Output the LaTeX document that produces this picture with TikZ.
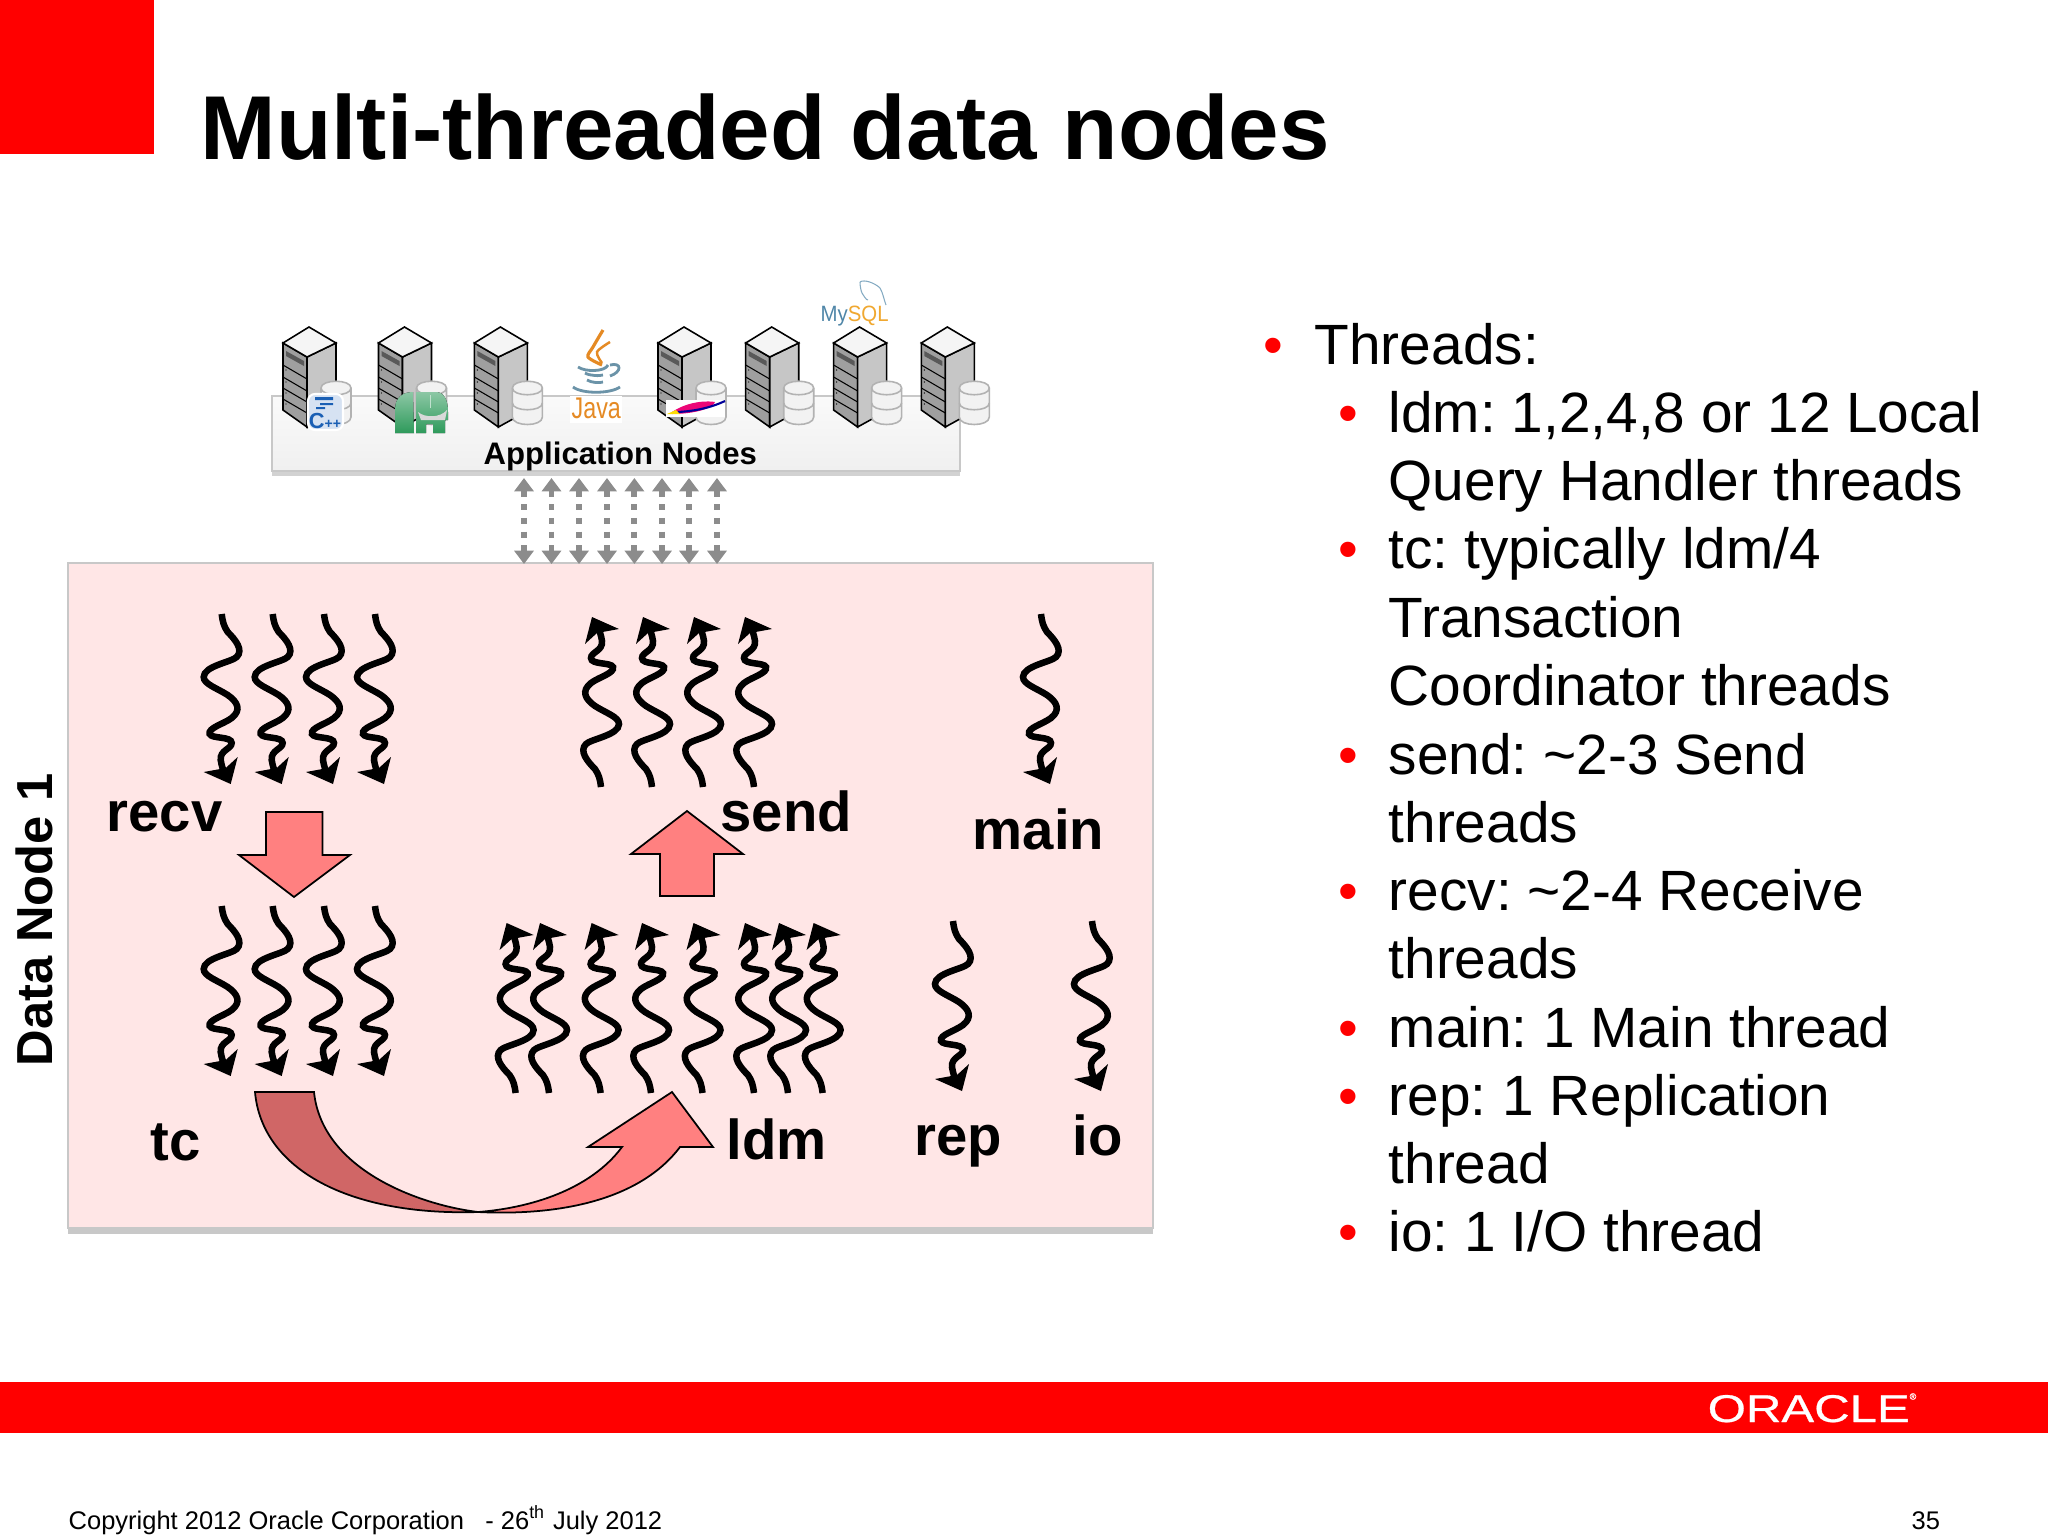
\documentclass[tikz,border=0pt]{standalone}
\usepackage{fontspec}
\usepackage{graphicx}
\setmainfont{Liberation Sans}
\newfontfamily\logofont[FakeBold=0.6]{Liberation Sans}
\usetikzlibrary{arrows.meta}
\definecolor{oraclered}{HTML}{FF0000}
\definecolor{panelpink}{HTML}{FFE6E6}
\definecolor{panelgrey}{HTML}{C8C8C8}
\definecolor{arrowpink}{HTML}{FF8080}
\definecolor{arrowdark}{HTML}{D06666}
\definecolor{linkgrey}{HTML}{8C8C8C}
\definecolor{javaorange}{HTML}{E58A24}
\definecolor{javablue}{HTML}{6B93A8}
\definecolor{mysqlblue}{HTML}{4F86A8}
\definecolor{mysqlorange}{HTML}{F0A830}
\definecolor{cppblue}{HTML}{1A5FB4}
\definecolor{hadoopgreen}{HTML}{2E9A5B}
\tikzset{
  titletext/.style={anchor=base west, inner sep=0pt, font=\fontsize{25.8}{30}\selectfont\bfseries},
  bodytext/.style={anchor=base west, inner sep=0pt, font=\fontsize{16.15}{19}\selectfont},
  bullettext/.style={anchor=base west, inner sep=0pt, text=oraclered, font=\fontsize{16}{19}\selectfont},
  threadlabel/.style={anchor=base west, inner sep=0pt, font=\fontsize{16}{19}\selectfont\bfseries},
  smalltext/.style={anchor=base west, inner sep=0pt, font=\fontsize{7.25}{9}\selectfont},
  blockarrow/.style={draw=black, line width=0.5pt, fill=arrowpink},
  linkarrow/.style={draw=linkgrey, line width=1.7pt, dash pattern=on 1.7pt off 2.2pt, {Triangle[length=3.8pt,width=5.4pt]}-{Triangle[length=3.8pt,width=5.4pt]}, linkgrey},
  pics/threadpic/.style={code={
    \draw[line width=1.85pt, line cap=butt] (0,0) .. controls (1,8) and (2,12) .. (6,18) .. controls (14,26) and (22,36) .. (15,43) .. controls (10,48) and (-18,52) .. (-18,63) .. controls (-18,70) and (-5,74) .. (6,81) .. controls (16,88) and (20,96) .. (10,104) .. controls (2,110) and (-14,114) .. (-12,120) .. controls (-10,125) and (10,122) .. (10,129) .. controls (10,135) and (-2,136) .. (-1,146) .. controls (0,152) and (1,155) .. (3,159);
    \fill (-18,158) -- (9,170) -- (16,143) -- (4,154) -- cycle;
  }},
  pics/serverpic/.style={code={
    \draw[fill=gray!75, line width=0.45pt] (0,16) -- (24,30) -- (24,100) -- (0,83) -- cycle;
    \draw[fill=gray!45, line width=0.45pt] (24,30) -- (53,16) -- (53,84) -- (24,100) -- cycle;
    \draw[fill=gray!8, line width=0.45pt] (0,16) -- (26,0) -- (53,16) -- (24,30) -- cycle;
    \foreach \s in {38,50,61,72} {
      \draw[line width=0.3pt] (0,\s) -- (24,14+\s);
      \fill (3,5+\s) circle (0.7);
    }
    \fill[black!65] (3,24) -- (21,34) -- (21,39) -- (3,29) -- cycle;
    \draw[gray!60, fill=gray!10, line width=0.45pt] (38,61) .. controls (38,52) and (68,52) .. (68,61) -- (68,90) .. controls (68,100) and (38,100) .. (38,90) -- cycle;
    \draw[gray!60, line width=0.45pt] (38,61) .. controls (38,70) and (68,70) .. (68,61);
    \draw[gray!60, line width=0.45pt] (38,76) .. controls (38,85) and (68,85) .. (68,76);
  }},
}
\begin{document}
\frenchspacing
\begin{tikzpicture}[x=0.01cm, y=-0.01cm]
\useasboundingbox (0,0) rectangle (2048,1536);
\fill[white] (0,0) rectangle (2048,1536);
\fill[oraclered] (0,0) rectangle (154,154);
\fill[oraclered] (0,1382) rectangle (2048,1433);
\node[titletext] (title) at (200,159) {Multi-threaded data nodes};

\fill[gray!35] (272,400) rectangle (960,476);
\draw[panelgrey, line width=0.7pt, top color=gray!4, bottom color=gray!12] (272,396) rectangle (960,471);
\foreach \x in {283,378.5,474.4,658,745.7,833.6,921.3}
  \pic at (\x,327) {serverpic};
\node[anchor=base west, inner sep=0pt, font=\fontsize{8.85}{11}\selectfont\bfseries] (appnodes) at (483,464) {Application Nodes};

% logos
\draw[white, rounded corners=2pt, fill=cppblue!18, line width=0.6pt] (308,394) rectangle (343,430);
\fill[cppblue] (315,397) rectangle (333,400) (320,403) rectangle (333,405) (316,407) rectangle (325,409);
\node[inner sep=0pt, text=cppblue, font=\bfseries] (cpp) at (325,421) {{\fontsize{6.2}{7}\selectfont C}{\fontsize{4}{5}\selectfont ++}};
\fill[top color=hadoopgreen!55, bottom color=hadoopgreen] (395,433) -- (395,410) .. controls (395,398) and (402,392) .. (413,392) -- (414,433) -- cycle;
\fill[top color=hadoopgreen!55, bottom color=hadoopgreen] (416,392) -- (436,392) .. controls (444,392) and (448,400) .. (448,412) -- (448,420) -- (445,420) -- (445,433) -- (433,433) -- (433,424) -- (426,424) -- (426,433) -- (416,433) -- cycle;
\fill[gray!30] (418,412) .. controls (425,418) and (440,418) .. (447,410) -- (445,420) -- (421,420) -- cycle;
\fill[hadoopgreen!30] (429.5,395) rectangle (431,408);

\fill[white] (570,396) rectangle (622,423);
\draw[javaorange, line width=0.9pt] plot[smooth] coordinates {(603,330) (593,347) (588,357) (602,365)};
\draw[javaorange, line width=0.7pt] plot[smooth] coordinates {(610,342) (597,352) (602,363)};
\draw[javablue, line width=0.8pt] (578,367) .. controls (585,372) and (605,372) .. (608,365) (585,373) .. controls (590,376) and (600,376) .. (603,375) (587,380) .. controls (592,383) and (600,383) .. (603,382) (573,387) .. controls (582,394) and (610,394) .. (620,387) (610,365) .. controls (622,362) and (622,372) .. (610,376);
\node[anchor=base west, inner sep=0pt, text=javaorange, font=\fontsize{8.5}{11}\selectfont] (javalogo) at (571,418) {\scalebox{.78}[1]{Java}};

\fill[white] (666,400) rectangle (725,417);
\fill[magenta!80!red] (672,412) .. controls (690,400) and (710,401) .. (715,402) .. controls (714,408) and (695,414) .. (672,414) -- cycle;
\draw[blue!60!black, line width=0.6pt] (678,412) .. controls (695,411) and (710,408) .. (725,401);
\fill[yellow!80!orange] (667,414) -- (676,410) -- (680,414) -- cycle;

\node[anchor=base west, inner sep=0pt, font=\fontsize{6.3}{7}\selectfont] (mysql) at (820,321.7) {\scalebox{.92}[1]{\textcolor{mysqlblue}{My}\textcolor{mysqlorange}{SQL}}};
\draw[mysqlblue!70, line width=0.3pt] (860,282) .. controls (864,279) and (875,283) .. (880,288) .. controls (883,293) and (884,300) .. (886,305) (860,282) .. controls (860,286) and (861,291) .. (862,293) .. controls (864,296) and (866,300) .. (868,300);

\fill[panelgrey] (68,570) rectangle (1153,1234);
\draw[panelgrey, fill=panelpink, line width=0.6pt] (68,563) rectangle (1153,1228);
\node[rotate=90, inner sep=0pt, font=\fontsize{14.4}{17}\selectfont\bfseries] (datanode) at (34,920) {Data Node 1};

% links to the data node
\foreach \x [count=\i] in {524,551.5,579,607,634.4,662,689,717} {
  \coordinate (linktop\i) at (\x,478);
  \coordinate (linkbot\i) at (\x,564);
  \draw[linkarrow] (linktop\i) -- (linkbot\i);
}

\foreach \x in {221.7,272.7,324,375} {
  \pic at (\x,614) {threadpic};
  \pic at (\x,906) {threadpic};
}
\pic at (1041,614) {threadpic};
\pic at (953,921) {threadpic};
\pic at (1092,921) {threadpic};
\foreach \x in {601,652,703,754}
  \pic[rotate=180] at (\x,787) {threadpic};
\foreach \x in {515.6,549,600.6,651,702.5,754,788,822.6}
  \pic[rotate=180] at (\x,1093) {threadpic};

\draw[blockarrow] (266,812) -- (322.5,812) -- (322.5,855) -- (350,855) -- (294,897) -- (239,855) -- (266,855) -- cycle;
\draw[blockarrow] (660,896) -- (714,896) -- (714,854) -- (743,854) -- (687,811) -- (631,854) -- (660,854) -- cycle;
\draw[blockarrow, fill=arrowdark] (255,1092) -- (314,1092) .. controls (322,1170) and (420,1205) .. (478,1212) .. controls (350,1216) and (262,1170) .. (255,1092) -- cycle;
\draw[blockarrow] (478,1212) .. controls (530,1208) and (590,1190) .. (622,1147) -- (588,1147) -- (672,1092) -- (713,1147) -- (680,1147) .. controls (640,1200) and (560,1216) .. (478,1212) -- cycle;

\node[threadlabel] (recv) at (106,831) {recv};
\node[threadlabel] (send) at (720,831) {send};
\node[threadlabel] (main) at (972,849) {main};
\node[threadlabel] (tc) at (150,1160) {tc};
\node[threadlabel] (ldm) at (726,1159) {ldm};
\node[threadlabel] (rep) at (914,1155) {rep};
\node[threadlabel] (io) at (1072,1155) {io};

% bullet list
\node[bullettext] (bull0) at (1263,364) {•};
\foreach \y [count=\i] in {432,568,774,910,1047,1115,1251}
  \node[bullettext] (bull\i) at (1338,\y) {•};
\node[bodytext] (line0) at (1314,364) {Threads:};
\node[bodytext] (line1) at (1388,432) {ldm: 1,2,4,8 or 12 Local};
\node[bodytext] (line2) at (1388,500) {Query Handler threads};
\node[bodytext] (line3) at (1388,568) {tc: typically ldm/4};
\node[bodytext] (line4) at (1388,637) {Transaction};
\node[bodytext] (line5) at (1388,705) {Coordinator threads};
\node[bodytext] (line6) at (1388,774) {send: \textasciitilde 2-3 Send};
\node[bodytext] (line7) at (1388,842) {threads};
\node[bodytext] (line8) at (1388,910) {recv: \textasciitilde 2-4 Receive};
\node[bodytext] (line9) at (1388,978) {threads};
\node[bodytext] (line10) at (1388,1047) {main: 1 Main thread};
\node[bodytext] (line11) at (1388,1115) {rep: 1 Replication};
\node[bodytext] (line12) at (1388,1183) {thread};
\node[bodytext] (line13) at (1388,1251) {io: 1 I/O thread};

\node[anchor=base west, inner sep=0pt, text=white, font=\fontsize{11}{13}\selectfont\logofont] (oracle) at (1707,1422) {\scalebox{1.27}[1]{ORACLE}\raisebox{1.1ex}{\fontsize{2.5}{3}\selectfont ®}};
\node[smalltext] (copyright) at (68,1529) {Copyright 2012 Oracle Corporation \ \ - 26\textsuperscript{th} July 2012};
\node[smalltext] (pagenum) at (1911,1529) {35};
\end{tikzpicture}
\end{document}
